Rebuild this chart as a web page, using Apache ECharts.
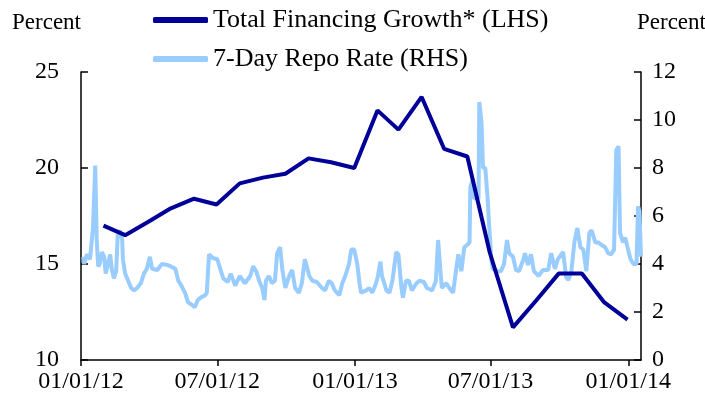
<!DOCTYPE html>
<html>
<head>
<meta charset="utf-8">
<script src="https://cdn.jsdelivr.net/npm/echarts@6/dist/echarts.min.js"></script>
<style>
  html, body { margin: 0; padding: 0; background: #fff; }
  #chart { width: 705px; height: 402px; }
</style>
</head>
<body>
<div id="chart"></div>
<script>
// monthly total financing growth, percent (left axis)
const finDates = [
  '2012-01-31', '2012-02-29', '2012-03-31', '2012-04-30', '2012-05-31', '2012-06-30',
  '2012-07-31', '2012-08-31', '2012-09-30', '2012-10-31', '2012-11-30', '2012-12-31',
  '2013-01-31', '2013-02-28', '2013-03-31', '2013-04-30', '2013-05-31', '2013-06-30',
  '2013-07-31', '2013-08-31', '2013-09-30', '2013-10-31', '2013-11-30', '2013-12-31'
]
const finValues = [
  17.0, 16.5, 17.2, 17.9, 18.4, 18.1,
  19.2, 19.5, 19.7, 20.5, 20.3, 20.0,
  23.0, 22.0, 23.7, 21.0, 20.6, 15.6,
  11.7, 13.1, 14.5, 14.5, 13.0, 12.1
]

// 7-day repo rate, percent (right axis)
const repoDates = [
  '2012-01-04', '2012-01-05', '2012-01-09', '2012-01-13', '2012-01-17', '2012-01-20', '2012-01-22', '2012-01-24',
  '2012-01-26', '2012-01-29', '2012-02-01', '2012-02-03', '2012-02-06', '2012-02-09', '2012-02-11', '2012-02-14',
  '2012-02-17', '2012-02-19', '2012-02-22', '2012-02-25', '2012-02-26', '2012-02-29', '2012-03-04', '2012-03-08',
  '2012-03-12', '2012-03-16', '2012-03-21', '2012-03-25', '2012-03-29', '2012-04-02', '2012-04-05', '2012-04-12',
  '2012-04-18', '2012-04-25', '2012-04-30', '2012-05-06', '2012-05-10', '2012-05-14', '2012-05-19', '2012-05-23',
  '2012-05-28', '2012-06-01', '2012-06-05', '2012-06-09', '2012-06-15', '2012-06-17', '2012-06-20', '2012-06-25',
  '2012-07-01', '2012-07-05', '2012-07-09', '2012-07-15', '2012-07-19', '2012-07-25', '2012-07-31', '2012-08-07',
  '2012-08-14', '2012-08-18', '2012-08-22', '2012-08-26', '2012-08-30', '2012-09-02', '2012-09-04', '2012-09-08',
  '2012-09-12', '2012-09-16', '2012-09-19', '2012-09-23', '2012-09-26', '2012-09-30', '2012-10-05', '2012-10-09',
  '2012-10-13', '2012-10-18', '2012-10-22', '2012-10-26', '2012-11-01', '2012-11-05', '2012-11-11', '2012-11-18',
  '2012-11-22', '2012-11-27', '2012-12-01', '2012-12-05', '2012-12-11', '2012-12-15', '2012-12-19', '2012-12-24',
  '2012-12-27', '2012-12-31', '2013-01-04', '2013-01-07', '2013-01-09', '2013-01-16', '2013-01-20', '2013-01-24',
  '2013-01-28', '2013-01-31', '2013-02-04', '2013-02-06', '2013-02-12', '2013-02-16', '2013-02-20', '2013-02-25',
  '2013-02-28', '2013-03-04', '2013-03-06', '2013-03-10', '2013-03-14', '2013-03-18', '2013-03-24', '2013-03-28',
  '2013-04-03', '2013-04-07', '2013-04-14', '2013-04-19', '2013-04-22', '2013-04-25', '2013-04-27', '2013-05-03',
  '2013-05-07', '2013-05-12', '2013-05-16', '2013-05-19', '2013-05-23', '2013-05-27', '2013-05-31', '2013-06-03',
  '2013-06-04', '2013-06-07', '2013-06-08', '2013-06-11', '2013-06-13', '2013-06-15', '2013-06-16', '2013-06-19',
  '2013-06-21', '2013-06-24', '2013-06-27', '2013-06-29', '2013-07-02', '2013-07-04', '2013-07-10', '2013-07-15',
  '2013-07-19', '2013-07-23', '2013-07-26', '2013-07-31', '2013-08-04', '2013-08-08', '2013-08-14', '2013-08-16',
  '2013-08-20', '2013-08-24', '2013-08-28', '2013-09-03', '2013-09-09', '2013-09-16', '2013-09-20', '2013-09-25',
  '2013-09-29', '2013-10-06', '2013-10-10', '2013-10-13', '2013-10-17', '2013-10-21', '2013-10-25', '2013-10-29',
  '2013-11-02', '2013-11-06', '2013-11-10', '2013-11-13', '2013-11-18', '2013-11-22', '2013-11-26', '2013-12-01',
  '2013-12-05', '2013-12-09', '2013-12-13', '2013-12-16', '2013-12-19', '2013-12-21', '2013-12-25', '2013-12-28',
  '2013-12-31', '2014-01-04', '2014-01-08', '2014-01-12', '2014-01-14', '2014-01-16', '2014-01-18'
]
const repoValues = [
  4.3, 4.0, 4.4, 4.2, 5.5, 8.1, 5.0, 3.9,
  4.0, 4.5, 4.3, 3.6, 4.0, 4.4, 3.8, 3.4,
  3.7, 5.2, 5.4, 5.0, 4.2, 3.6, 3.3, 3.0,
  2.9, 3.0, 3.2, 3.6, 3.8, 4.3, 3.8, 3.75,
  4.0, 3.96, 3.9, 3.8, 3.3, 3.1, 2.8, 2.4,
  2.3, 2.2, 2.5, 2.6, 2.7, 2.8, 4.4, 4.25,
  4.2, 3.8, 3.4, 3.25, 3.6, 3.1, 3.5, 3.2,
  3.5, 3.9, 3.7, 3.3, 3.0, 2.5, 3.3, 3.5,
  3.2, 3.3, 4.45, 4.7, 3.75, 3.0, 3.5, 3.75,
  3.0, 2.8, 3.2, 4.2, 3.5, 3.3, 3.25, 3.0,
  2.9, 3.3, 3.2, 2.9, 2.7, 3.2, 3.5, 4.0,
  4.6, 4.6, 4.0, 3.2, 2.8, 2.9, 3.0, 2.8,
  3.1, 3.4, 4.1, 3.5, 2.9, 2.8, 3.3, 4.5,
  4.4, 3.0, 2.6, 3.3, 3.3, 2.9, 3.2, 3.3,
  3.25, 3.0, 2.9, 3.3, 5.0, 3.75, 3.0, 3.2,
  3.0, 2.8, 3.75, 4.4, 3.7, 4.7, 4.8, 4.9,
  7.2, 7.5, 6.8, 6.7, 7.1, 6.7, 10.75, 9.9,
  8.0, 8.0, 6.8, 5.7, 4.2, 3.8, 3.7, 3.7,
  4.0, 5.0, 4.45, 4.3, 3.75, 3.7, 4.2, 4.45,
  3.96, 4.4, 3.7, 3.5, 3.75, 3.75, 4.45, 3.8,
  4.2, 4.5, 3.46, 3.33, 3.7, 4.9, 5.5, 4.7,
  4.6, 3.7, 5.3, 5.4, 4.9, 4.9, 4.8, 4.7,
  4.45, 4.4, 4.6, 8.75, 8.9, 5.3, 4.9, 5.1,
  4.7, 4.2, 4.0, 4.0, 6.4, 6.2, 4.3
]

const xTicks = ['2012-01-01', '2012-07-01', '2013-01-01', '2013-07-01', '2014-01-01']

const fontFamily = 'Liberation Serif'
const toTime = d => +echarts.time.parse(d)
const pad = n => (n < 10 ? '0' : '') + n
const fmtDate = v => {
  const d = new Date(v)
  return pad(d.getMonth() + 1) + '/' + pad(d.getDate()) + '/' + pad(d.getFullYear() % 100)
}

const axisLineStyle = { color: '#000', width: 1.5 }
const tickValues = xTicks.map(toTime)

const chart = echarts.init(document.getElementById('chart'))

chart.setOption({
  animation: false,
  grid: {
    left: 81,
    right: 64,
    top: 72,
    bottom: 42,
    outerBoundsMode: 'none'
  },
  legend: {
    orient: 'vertical',
    left: 153,
    top: 7,
    padding: 0,
    itemWidth: 55,
    itemHeight: 6,
    itemGap: 13,
    icon: 'roundRect',
    textStyle: {
      fontFamily: fontFamily,
      fontSize: 26,
      color: '#000'
    },
    data: ['Total Financing Growth* (LHS)', '7-Day Repo Rate (RHS)']
  },
  xAxis: {
    // dates held as timestamps on a value scale so the tick dates can be pinned
    type: 'value',
    min: toTime('2012-01-01'),
    max: toTime('2014-01-18'),
    splitLine: { show: false },
    axisLine: { lineStyle: axisLineStyle },
    axisTick: {
      show: true,
      inside: false,
      length: 6,
      lineStyle: { color: '#000', width: 1.5 },
      customValues: tickValues
    },
    axisLabel: {
      color: '#000',
      fontFamily: fontFamily,
      fontSize: 24,
      margin: 10,
      customValues: tickValues,
      formatter: v => fmtDate(v)
    }
  },
  yAxis: [
    {
      type: 'value',
      position: 'left',
      min: 10,
      max: 25,
      interval: 5,
      name: 'Percent',
      nameLocation: 'end',
      nameGap: 38,
      nameTextStyle: {
        fontFamily: fontFamily,
        fontSize: 23,
        color: '#000',
        align: 'right'
      },
      splitLine: { show: false },
      axisLine: { show: true, lineStyle: axisLineStyle },
      axisTick: { show: true, inside: true, length: 7, lineStyle: { color: '#000', width: 1.5 } },
      axisLabel: { color: '#000', fontFamily: fontFamily, fontSize: 24, margin: 22 }
    },
    {
      type: 'value',
      position: 'right',
      min: 0,
      max: 12,
      interval: 2,
      name: 'Percent',
      nameLocation: 'end',
      nameGap: 38,
      nameTextStyle: {
        fontFamily: fontFamily,
        fontSize: 23,
        color: '#000',
        align: 'left',
        padding: [0, 0, 0, -4]
      },
      splitLine: { show: false },
      axisLine: { show: true, lineStyle: axisLineStyle },
      axisTick: { show: true, inside: true, length: 7, lineStyle: { color: '#000', width: 1.5 } },
      axisLabel: { color: '#000', fontFamily: fontFamily, fontSize: 24, margin: 11 }
    }
  ],
  series: [
    {
      name: 'Total Financing Growth* (LHS)',
      type: 'line',
      yAxisIndex: 0,
      z: 3,
      showSymbol: false,
      color: '#000099',
      lineStyle: { width: 4, color: '#000099' },
      data: finDates.map((d, i) => [toTime(d), finValues[i]])
    },
    {
      name: '7-Day Repo Rate (RHS)',
      type: 'line',
      yAxisIndex: 1,
      z: 2,
      showSymbol: false,
      color: '#99CCFF',
      lineStyle: { width: 4, color: '#99CCFF' },
      data: repoDates.map((d, i) => [toTime(d), repoValues[i]])
    }
  ]
})
</script>
</body>
</html>
